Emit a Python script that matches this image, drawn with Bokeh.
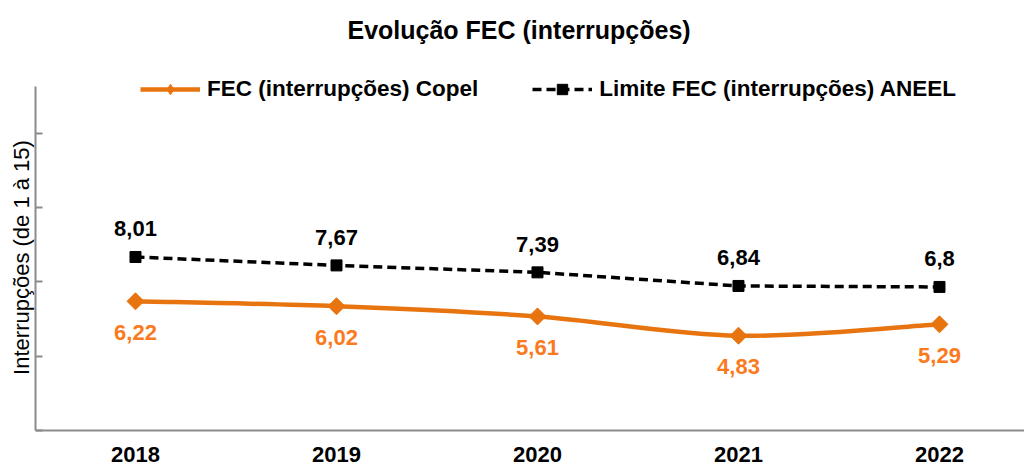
from bokeh.plotting import figure
from bokeh.models import Range1d, FixedTicker, Legend, LegendItem, ColumnDataSource
from bokeh.embed import file_html
from bokeh.resources import INLINE
from bokeh.core.properties import value

# ---- data ----
years = ["2018", "2019", "2020", "2021", "2022"]
copel = [6.22, 6.02, 5.61, 4.83, 5.29]
aneel = [8.01, 7.67, 7.39, 6.84, 6.8]
copel_labels = ["6,22", "6,02", "5,61", "4,83", "5,29"]
aneel_labels = ["8,01", "7,67", "7,39", "6,84", "6,8"]
y_ticks = [1, 4, 7, 10, 13]
y_min, y_max = 1, 14.9

title_text = "Evolução FEC (interrupções)"
copel_name = "FEC (interrupções) Copel"
aneel_name = "Limite FEC (interrupções) ANEEL"
y_label = "Interrupções (de 1 à 15)"

ORANGE = "#E8740F"
ORANGE_LBL = "#FB7A1E"
FONT = "Liberation Sans"

x = list(range(len(years)))

p = figure(width=1024, height=466, output_backend="svg", toolbar_location=None,
           x_range=Range1d(-0.4975, 4.423), y_range=Range1d(-0.4545, 16.434),
           min_border_left=35, min_border_right=0, min_border_top=48,
           min_border_bottom=0)
p.outline_line_color = None
p.grid.visible = False
p.background_fill_color = "white"
p.border_fill_color = "white"

# title
p.title.text = title_text
p.title.align = "left"
p.title.offset = 312
p.title.text_font = FONT
p.title.text_font_size = "25px"
p.title.text_font_style = "bold"
p.title.text_color = "black"

# y axis
yax = p.yaxis[0]
yax.ticker = FixedTicker(ticks=y_ticks)
yax.bounds = (y_min, y_max)
yax.major_label_overrides = {t: "" for t in y_ticks}
yax.major_label_standoff = 0
yax.major_tick_in = 7
yax.major_tick_out = 0
yax.minor_tick_in = 0
yax.minor_tick_out = 0
yax.axis_line_color = "#8C8C8C"
yax.axis_line_width = 2
yax.major_tick_line_color = "#8C8C8C"
yax.major_tick_line_width = 2
yax.axis_label = y_label
yax.axis_label_text_font = FONT
yax.axis_label_text_font_size = "22px"
yax.axis_label_text_font_style = "normal"
yax.axis_label_text_color = "black"
yax.axis_label_standoff = 2

# x axis (drawn at y = 1, bottom of the value scale)
xax = p.xaxis[0]
xax.ticker = FixedTicker(ticks=x)
xax.fixed_location = y_min
xax.major_label_overrides = {i: years[i] for i in x}
xax.major_label_text_font = FONT
xax.major_label_text_font_size = "22px"
xax.major_label_text_font_style = "bold"
xax.major_label_text_color = "black"
xax.major_label_standoff = 16
xax.major_tick_in = 0
xax.major_tick_out = 0
xax.minor_tick_in = 0
xax.minor_tick_out = 0
xax.axis_line_color = "#8C8C8C"
xax.axis_line_width = 2

# ---- ANEEL dashed line ----
src_a = ColumnDataSource(dict(x=x, y=aneel, lbl=aneel_labels))
r_al = p.line("x", "y", source=src_a, line_color="black", line_width=3.5,
              line_dash="9 5")
r_as = p.scatter("x", "y", source=src_a, marker="square", size=11,
                 fill_color="black", line_color="black")
p.text("x", "y", text="lbl", source=src_a, text_align="center",
       text_baseline="middle", y_offset=-28, text_font=value(FONT),
       text_font_size="22px", text_font_style="bold", text_color="black")

# ---- Copel smooth line (bezier through the data points) ----
n = len(x)
x0, y0, x1, y1, cx0, cy0, cx1, cy1 = [], [], [], [], [], [], [], []
for i in range(n - 1):
    a = i - 1 if i > 0 else i
    b = i + 2 if i + 2 < n else i + 1
    x0.append(x[i]); y0.append(copel[i])
    x1.append(x[i + 1]); y1.append(copel[i + 1])
    cx0.append(x[i] + (x[i + 1] - x[a]) / 6.0)
    cy0.append(copel[i] + (copel[i + 1] - copel[a]) / 6.0)
    cx1.append(x[i + 1] - (x[b] - x[i]) / 6.0)
    cy1.append(copel[i + 1] - (copel[b] - copel[i]) / 6.0)
src_bz = ColumnDataSource(dict(x0=x0, y0=y0, x1=x1, y1=y1,
                               cx0=cx0, cy0=cy0, cx1=cx1, cy1=cy1))
r_cl = p.bezier(x0="x0", y0="y0", x1="x1", y1="y1", cx0="cx0", cy0="cy0",
                cx1="cx1", cy1="cy1", source=src_bz, line_color=ORANGE,
                line_width=4.5)
src_c = ColumnDataSource(dict(x=x, y=copel, lbl=copel_labels))
# narrow diamond (used by the legend), hidden beneath the wide marker
r_cd = p.scatter("x", "y", source=src_c, marker="diamond", size=15,
                 fill_color=ORANGE, line_color=ORANGE)
r_cs = p.scatter("x", "y", source=src_c, marker="square", angle=0.785398,
                 size=12, fill_color=ORANGE, line_color=ORANGE)
p.text("x", "y", text="lbl", source=src_c, text_align="center",
       text_baseline="middle", y_offset=31, text_font=value(FONT),
       text_font_size="22px", text_font_style="bold", text_color=ORANGE_LBL)

# ---- legend ----
legend = Legend(items=[LegendItem(label=copel_name, renderers=[r_cl, r_cd]),
                       LegendItem(label=aneel_name, renderers=[r_al, r_as])],
                orientation="horizontal", location=(105, 364),
                glyph_width=60, glyph_height=26, label_standoff=7, spacing=54,
                padding=0, margin=0, border_line_color=None,
                background_fill_alpha=0, label_text_font=FONT,
                label_text_font_size="22.5px", label_text_font_style="bold",
                label_text_color="black")
p.add_layout(legend, "center")

open("out.html", "w").write(file_html(p, INLINE))
